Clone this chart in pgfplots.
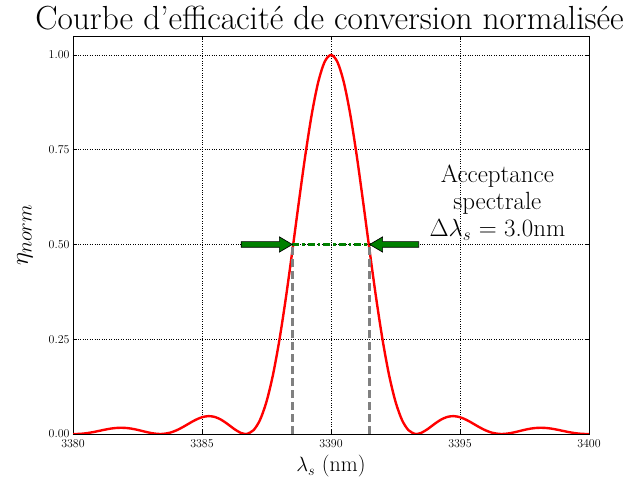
\documentclass[border=0pt]{standalone}
\usepackage{pgfplots}
\pgfplotsset{compat=1.18}
\usepackage{pgfplotstable}
\definecolor{arrowgreen}{RGB}{0,128,0}
\definecolor{dashgray}{RGB}{128,128,128}

% normalised efficiency
\pgfplotstableread{
x y
3380 0.0000626
3380.079 0
3380.25 0.000304
3380.5 0.001860
3380.75 0.004585
3381 0.008056
3381.25 0.011637
3381.5 0.014599
3381.75 0.016275
3382 0.016220
3382.25 0.014339
3382.5 0.010958
3382.75 0.006806
3383 0.002909
3383.25 0.000404
3383.386 0
3383.5 0.000306
3383.75 0.003257
3384 0.009334
3384.25 0.017938
3384.5 0.027818
3384.75 0.037234
3385 0.044259
3385.25 0.047173
3385.5 0.044901
3385.75 0.037396
3386 0.025926
3386.25 0.013154
3386.5 0.003009
3386.693 0
3386.75 0.000307
3387 0.010175
3387.25 0.03733
3387.5 0.08531
3387.75 0.15579
3388 0.24806
3388.25 0.35877
3388.5 0.48207
3388.75 0.60996
3389 0.73313
3389.25 0.84183
3389.5 0.92702
3389.75 0.98134
3390 1.0
3390.25 0.98134
3390.5 0.92702
3390.75 0.84183
3391 0.73313
3391.25 0.60996
3391.5 0.48207
3391.75 0.35877
3392 0.24806
3392.25 0.15579
3392.5 0.08531
3392.75 0.03733
3393 0.010175
3393.25 0.000307
3393.307 0
3393.5 0.003009
3393.75 0.013154
3394 0.025926
3394.25 0.037396
3394.5 0.044901
3394.75 0.047173
3395 0.044259
3395.25 0.037234
3395.5 0.027818
3395.75 0.017938
3396 0.009334
3396.25 0.003257
3396.5 0.000306
3396.614 0
3396.75 0.000404
3397 0.002909
3397.25 0.006806
3397.5 0.010958
3397.75 0.014339
3398 0.016220
3398.25 0.016275
3398.5 0.014599
3398.75 0.011637
3399 0.008056
3399.25 0.004585
3399.5 0.001860
3399.75 0.000304
3399.921 0
3400 0.0000626
}\effdata

\begin{document}
\begin{tikzpicture}
\begin{axis}[
    scale only axis,
    width=516bp, height=398bp,
    xmin=3380, xmax=3400,
    ymin=0, ymax=1.05,
    xtick={3380,3385,3390,3395,3400},
    ytick={0,0.25,0.5,0.75,1.0},
    yticklabel style={/pgf/number format/.cd, fixed, fixed zerofill, precision=2},
    xticklabel style={/pgf/number format/1000 sep={}, yshift=-2.5bp},
    tick label style={font=\fontsize{13}{15}\selectfont},
    grid=major,
    major grid style={black, dotted, line width=0.6pt},
    axis line style={black, line width=0.8pt},
    major tick length=4bp,
    tick style={black, line width=0.7pt},
    title={Courbe d’efficacité de conversion normalisée},
    title style={font=\fontsize{33.5}{38}\selectfont, inner sep=0pt, anchor=base, yshift=1bp, xshift=-1.5bp},
    xlabel={$\lambda_s$ (nm)},
    xlabel style={font=\fontsize{22}{26}\selectfont, yshift=-1bp},
    ylabel={$\eta_{norm}$},
    ylabel style={font=\fontsize{28}{32}\selectfont, at={(axis description cs:-0.093,0.5)}, anchor=center},
    clip=true,
]
\addplot[red, line width=2.4pt, smooth] table[x=x, y=y] {\effdata};
\addplot[dashgray, line width=2.8pt, dash pattern=on 8pt off 4pt] coordinates {(3388.5,0) (3388.5,0.5)};
\addplot[dashgray, line width=2.8pt, dash pattern=on 8pt off 4pt] coordinates {(3391.5,0) (3391.5,0.5)};
\addplot[arrowgreen, line width=3.5pt, dash pattern=on 7pt off 3pt on 2.5pt off 3pt] coordinates {(3388.5,0.5) (3391.5,0.5)};
% fat arrows pointing at the half-maximum points
\draw[fill=arrowgreen, draw=black, line width=0.7pt]
  (axis cs:3386.52,0.4925) -- (axis cs:3388.0,0.4925) -- (axis cs:3388.0,0.48)
  -- (axis cs:3388.5,0.5) -- (axis cs:3388.0,0.52) -- (axis cs:3388.0,0.5075)
  -- (axis cs:3386.52,0.5075) -- cycle;
\draw[fill=arrowgreen, draw=black, line width=0.7pt]
  (axis cs:3393.4,0.4925) -- (axis cs:3392.0,0.4925) -- (axis cs:3392.0,0.48)
  -- (axis cs:3391.5,0.5) -- (axis cs:3392.0,0.52) -- (axis cs:3392.0,0.5075)
  -- (axis cs:3393.4,0.5075) -- cycle;
\node[anchor=south, align=center, font=\fontsize{25}{27}\selectfont, inner sep=0pt]
  at (axis cs:3396.45,0.51) {Acceptance\\spectrale\\$\Delta\lambda_s$ = 3.0nm};
\end{axis}
\path (current axis.south west) ++(-73bp,-45bp) coordinate (bbsw);
\path (current axis.north east) ++(36bp,36bp) coordinate (bbne);
\useasboundingbox (bbsw) rectangle (bbne);
\end{tikzpicture}
\end{document}
